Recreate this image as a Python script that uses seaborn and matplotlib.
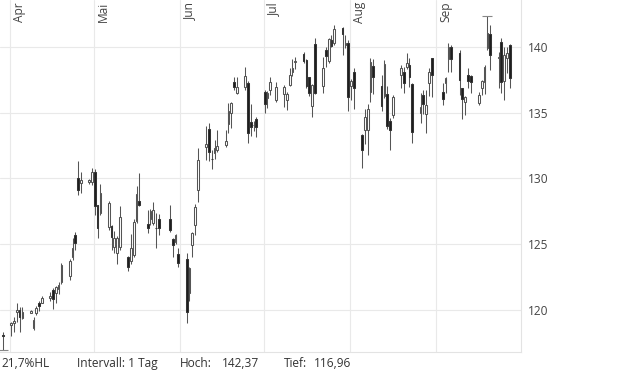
import numpy as np
import pandas as pd
import matplotlib
matplotlib.use("Agg")
import matplotlib.pyplot as plt
import matplotlib.dates as mdates
import matplotlib.transforms as mtrans
import seaborn as sns

# ---------------- data ----------------
holidays = ["2024-05-27", "2024-07-04", "2024-09-02"]
dates = pd.bdate_range("2024-03-29", "2024-09-27").drop(pd.to_datetime(holidays))

opens = [118.10,
         118.90, 119.05, 119.85, 120.00, 119.40,
         119.80, 118.60, 119.75, 120.55, 120.55,
         120.90, 121.55, 121.30, 121.60, 122.15,
         122.55, 124.05, 125.70, 130.00, 129.65,
         129.75, 129.76, 130.50, 127.95, 127.35,
         126.35, 126.40, 124.80, 124.30, 124.80,
         124.05, 123.70, 124.20, 126.75, 128.30,
         126.55, 126.95, 126.60, 126.25, 126.90,
         126.95, 125.40, 125.20, 124.25,
         123.85, 121.27, 124.95, 126.46, 129.13,
         132.37, 133.80, 131.50, 131.92, 132.20,
         132.55, 134.12, 134.96, 137.36, 136.53,
         136.93, 137.24, 134.30, 134.05, 134.50,
         136.60, 136.10, 136.73, 135.97,
         136.40, 135.97, 137.10, 138.12, 138.85,
         139.45, 139.00, 137.70, 135.50, 140.20,
         137.00, 139.77, 138.90, 140.50, 140.30,
         141.45, 140.15, 140.28, 137.00, 138.10,
         133.30, 133.70, 133.70, 136.60, 138.55,
         137.00, 136.30, 136.40, 134.40, 134.83,
         137.87, 138.12, 138.50, 138.63, 137.20,
         134.96, 136.35, 134.90, 137.24, 139.14,
         136.60, 137.24, 139.06, 140.02,
         139.52, 136.86, 135.84, 137.87, 137.80,
         135.72, 136.90, 137.32, 139.90, 140.97,
         139.15, 140.36, 137.41, 139.14, 140.15]

highs = [118.35,
         119.10, 119.50, 120.50, 120.25, 120.20,
         120.00, 119.50, 120.30, 120.70, 121.10,
         121.40, 121.70, 121.85, 122.10, 123.60,
         123.85, 125.45, 125.90, 131.30, 130.50,
         129.95, 130.80, 130.70, 128.00, 129.60,
         128.30, 126.50, 126.00, 125.60, 127.90,
         124.10, 125.80, 126.90, 129.40, 130.40,
         127.60, 127.70, 128.25, 127.40, 127.30,
         128.00, 125.50, 125.80, 124.70,
         124.30, 123.30, 125.90, 128.06, 132.30,
         134.00, 134.20, 132.20, 132.95, 133.70,
         133.70, 135.76, 135.84, 137.74, 137.70,
         138.46, 137.40, 135.70, 134.40, 134.70,
         136.70, 136.65, 137.75, 137.36,
         137.10, 136.60, 138.40, 139.10, 139.20,
         139.60, 139.10, 137.75, 137.20, 140.66,
         139.20, 140.00, 140.70, 140.90, 141.67,
         141.50, 140.90, 140.50, 137.60, 138.40,
         133.40, 135.30, 135.70, 139.14, 139.10,
         137.90, 139.00, 137.00, 134.60, 136.35,
         138.63, 138.50, 139.52, 139.14, 137.24,
         136.48, 136.73, 136.70, 138.40, 139.14,
         137.24, 137.74, 140.33, 140.15,
         139.77, 136.90, 136.30, 138.38, 137.90,
         136.60, 137.50, 138.65, 142.37, 141.67,
         139.64, 140.70, 140.02, 140.00, 140.20]

lows = [116.96,
        118.05, 118.35, 119.10, 118.35, 119.35,
        119.75, 118.45, 119.60, 119.90, 120.50,
        120.70, 120.05, 120.50, 121.20, 122.00,
        122.30, 123.80, 124.60, 128.75, 128.90,
        129.60, 129.50, 127.20, 125.45, 127.20,
        126.10, 124.60, 124.30, 123.50, 124.60,
        123.00, 123.50, 124.00, 126.60, 127.90,
        125.85, 126.50, 126.45, 124.70, 125.70,
        125.90, 124.05, 125.00, 123.30,
        119.00, 120.65, 124.05, 125.70, 128.24,
        131.40, 131.30, 130.70, 131.50, 132.00,
        132.40, 133.44, 133.82, 136.73, 136.40,
        136.70, 132.70, 133.20, 133.60, 133.15,
        134.95, 135.35, 136.35, 135.80,
        135.40, 135.20, 137.00, 137.80, 138.30,
        138.80, 136.90, 136.30, 134.70, 136.40,
        136.50, 138.50, 138.80, 140.00, 140.15,
        139.40, 139.90, 135.10, 136.00, 135.30,
        130.80, 132.60, 131.80, 135.84, 136.40,
        135.10, 136.10, 133.80, 132.20, 134.60,
        136.86, 136.48, 138.30, 136.98, 132.70,
        134.20, 134.90, 133.45, 136.30, 136.22,
        135.59, 136.48, 138.12, 138.12,
        136.35, 134.50, 134.83, 136.90, 136.48,
        135.60, 136.35, 136.40, 139.80, 138.25,
        136.86, 136.48, 135.97, 138.00, 136.86]

closes = [118.00,
          119.05, 119.20, 120.00, 119.45, 119.85,
          119.93, 119.24, 120.13, 120.30, 120.95,
          121.10, 120.85, 121.75, 121.90, 123.40,
          123.70, 124.70, 125.07, 129.15, 129.90,
          129.85, 130.50, 127.90, 126.20, 128.90,
          128.10, 125.55, 125.50, 125.45, 127.10,
          123.30, 124.70, 126.70, 128.85, 128.00,
          126.20, 127.50, 127.60, 126.20, 126.20,
          126.10, 124.95, 125.70, 123.60,
          119.85, 123.17, 125.85, 127.86, 131.40,
          132.62, 132.05, 131.45, 132.30, 132.47,
          132.85, 135.16, 135.72, 136.95, 136.93,
          137.80, 133.44, 133.95, 134.10, 133.95,
          135.67, 136.50, 137.36, 136.98,
          136.95, 136.43, 137.87, 138.37, 138.90,
          138.90, 137.00, 136.50, 137.10, 136.50,
          138.40, 139.30, 140.60, 140.10, 141.35,
          141.00, 140.30, 136.22, 137.40, 136.90,
          132.20, 134.70, 135.30, 138.88, 137.74,
          135.50, 138.70, 134.00, 133.70, 136.20,
          138.38, 137.24, 138.80, 137.74, 133.50,
          135.46, 135.67, 135.59, 138.12, 137.87,
          136.02, 137.62, 140.02, 139.06,
          137.49, 136.06, 136.20, 137.44, 137.36,
          136.35, 137.41, 138.50, 141.04, 139.39,
          139.20, 137.36, 139.39, 139.52, 137.67]

months = ["Apr", "Mai", "Jun", "Jul", "Aug", "Sep"]
month_starts = pd.date_range("2024-04-01", periods=6, freq="MS")
y_ticks = [120, 125, 130, 135, 140]
footer = [("21,7%HL", 1), ("Intervall: 1 Tag", 77), ("Hoch:", 180), ("142,37", 222),
          ("Tief:", 284), ("116,96", 314)]

# ---------------- style ----------------
sns.set_theme(style="white")
plt.rcParams["font.family"] = ["Open Sans", "DejaVu Sans"]

o = np.array(opens); h = np.array(highs); l = np.array(lows); c = np.array(closes)
x = mdates.date2num(dates) + 0.35
up = c >= o
body_bottom = np.minimum(o, c)
body_h = np.maximum(np.abs(c - o), 0.05)

fig = plt.figure(figsize=(6.2, 3.72), dpi=100)
ax = fig.add_axes([0, 20 / 372, 521 / 620, 352 / 372])

wick_col = "#555555"
ax.vlines(x, l, h, color=wick_col, lw=0.75, zorder=2)
ax.bar(x[up], body_h[up], bottom=body_bottom[up], width=0.62, color="white",
       edgecolor=wick_col, linewidth=0.75, zorder=3)
ax.bar(x[~up], body_h[~up], bottom=body_bottom[~up], width=0.62, color="#1e1e1e",
       edgecolor="#333333", linewidth=0.75, zorder=3)

# high / low markers
i_hi = int(np.argmax(h)); i_lo = int(np.argmin(l))
ax.hlines(h[i_hi], x[i_hi] - 1.8, x[i_hi] + 1.8, color="#888888", lw=0.8, zorder=2)
ax.hlines(l[i_lo], x[i_lo] - 1.8, x[i_lo] + 1.8, color="#888888", lw=0.8, zorder=2)

ax.set_xlim(mdates.date2num(pd.Timestamp("2024-03-28")) + 0.3,
            mdates.date2num(pd.Timestamp("2024-10-01")) + 0.42)
ax.set_ylim(116.81, 143.57)

ax.set_yticks(y_ticks)
ax.set_yticklabels([str(t) for t in y_ticks])
ax.yaxis.tick_right()
ax.tick_params(axis="y", length=0, pad=5, labelsize=8.6, labelcolor="#444444")
ax.set_xticks(mdates.date2num(month_starts))
ax.set_xticklabels([])
ax.tick_params(axis="x", length=0)
ax.grid(True, color="#e9e9e9", lw=0.8, zorder=0)
ax.set_axisbelow(True)

for side in ["top", "left"]:
    ax.spines[side].set_visible(False)
for side in ["bottom", "right"]:
    ax.spines[side].set_visible(True)
    ax.spines[side].set_color("#e3e3e3")
    ax.spines[side].set_linewidth(0.8)

trans = mtrans.blended_transform_factory(ax.transData, ax.transAxes) + \
    mtrans.ScaledTranslation(9.5 / 100, -2 / 100, fig.dpi_scale_trans)
for ms, name in zip(month_starts, months):
    ax.text(mdates.date2num(ms), 1, name, rotation=90, ha="center", va="top",
            transform=trans, fontsize=8.6, color="#444444")

for txt, px in footer:
    fig.text(px / 620, (372 - 367) / 372, txt, ha="left", va="baseline",
             fontsize=8.6, color="#333333")

fig.savefig("out.png", dpi=100)
